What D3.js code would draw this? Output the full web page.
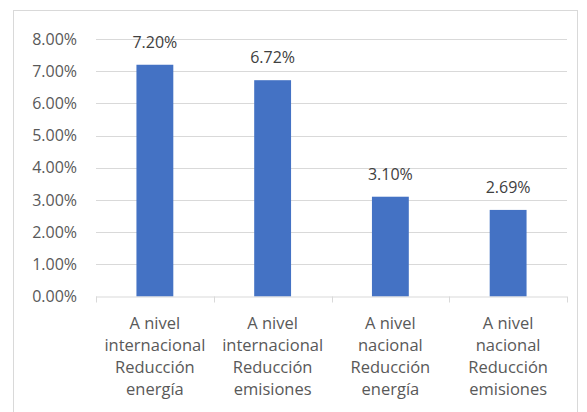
<!DOCTYPE html>
<html>
<head>
<meta charset="utf-8">
<script src="https://cdn.jsdelivr.net/npm/d3@7"></script>
<style>
  body { margin: 0; background: #fff; }
  svg { font-family: "Open Sans", sans-serif; }
</style>
</head>
<body>
<div id="wrapper"></div>
<script>
// data
const categories = [
    ["A nivel", "internacional", "Reducción", "energía"],
    ["A nivel", "internacional", "Reducción", "emisiones"],
    ["A nivel", "nacional", "Reducción", "energía"],
    ["A nivel", "nacional", "Reducción", "emisiones"]
];
const values = [0.072, 0.0672, 0.031, 0.0269];
const yTicks = [0, 0.01, 0.02, 0.03, 0.04, 0.05, 0.06, 0.07, 0.08];

const width = 587
const height = 412
let dimensions = {
    width: width,
    height: height,
    margin: { top: 39, right: 20, bottom: 115.5, left: 96 },
}
dimensions.boundedWidth = 567 - dimensions.margin.left
dimensions.boundedHeight = 296.5 - dimensions.margin.top

const wrapper = d3.select("#wrapper")
    .append("svg")
    .attr("width", dimensions.width)
    .attr("height", dimensions.height);

// chart border
wrapper.append("rect")
    .attr("x", 13.5)
    .attr("y", 10.5)
    .attr("width", 564)
    .attr("height", 420)
    .attr("fill", "none")
    .attr("stroke", "#d9d9d9");

const bounds = wrapper.append("g")
    .attr("transform", `translate(${dimensions.margin.left},${dimensions.margin.top})`);

const xScaler = d3.scaleBand()
    .domain(d3.range(categories.length))
    .range([0, dimensions.boundedWidth])
    .paddingInner(0.687)
    .paddingOuter(0.3435)

const yScaler = d3.scaleLinear()
    .domain([0, 0.08])
    .range([dimensions.boundedHeight, 0])

// gridlines
bounds.append("g")
    .selectAll("line")
    .data(yTicks.slice(1))
    .join("line")
    .attr("x1", 0)
    .attr("x2", dimensions.boundedWidth)
    .attr("y1", d => Math.round(yScaler(d)) + 0.5)
    .attr("y2", d => Math.round(yScaler(d)) + 0.5)
    .attr("stroke", "#d9d9d9")
    .attr("stroke-width", 1);

// y axis
const yAxisGen = d3.axisLeft(yScaler)
    .tickValues(yTicks)
    .tickFormat(d3.format(".2%"))
    .tickSize(0)
    .tickPadding(19);
const yAxis = bounds.append("g").call(yAxisGen);
yAxis.select(".domain").remove();
yAxis.selectAll("text")
    .attr("fill", "#595959")
    .attr("font-size", "16px")
    .attr("font-family", "Open Sans, sans-serif");

// bars
bounds.append("g")
    .selectAll("rect")
    .data(values)
    .join("rect")
    .attr("x", (d, i) => xScaler(i))
    .attr("y", d => yScaler(d))
    .attr("width", xScaler.bandwidth())
    .attr("height", d => dimensions.boundedHeight - yScaler(d))
    .attr("fill", "#4472c4");

// value labels
bounds.append("g")
    .selectAll("text")
    .data(values)
    .join("text")
    .attr("x", (d, i) => xScaler(i) + xScaler.bandwidth() / 2)
    .attr("y", d => yScaler(d) - 17)
    .attr("text-anchor", "middle")
    .attr("fill", "#404040")
    .attr("font-size", "16px")
    .text(d => d3.format(".2%")(d));

// x axis line and ticks between categories
const step = xScaler.step();
bounds.append("line")
    .attr("x1", 0)
    .attr("x2", dimensions.boundedWidth)
    .attr("y1", dimensions.boundedHeight + 0.5)
    .attr("y2", dimensions.boundedHeight + 0.5)
    .attr("stroke", "#d9d9d9");
bounds.append("g")
    .selectAll("line")
    .data(d3.range(categories.length + 1))
    .join("line")
    .attr("x1", i => Math.round(i * step) + 0.5)
    .attr("x2", i => Math.round(i * step) + 0.5)
    .attr("y1", dimensions.boundedHeight)
    .attr("y2", dimensions.boundedHeight + 6)
    .attr("stroke", "#d9d9d9");

// category labels
const catLabels = bounds.append("g")
    .selectAll("text")
    .data(categories)
    .join("text")
    .attr("text-anchor", "middle")
    .attr("fill", "#595959")
    .attr("font-size", "16.5px")
    .attr("transform", (d, i) => `translate(${xScaler(i) + xScaler.bandwidth() / 2},${dimensions.boundedHeight + 32})`);
catLabels.selectAll("tspan")
    .data(d => d)
    .join("tspan")
    .attr("x", 0)
    .attr("y", (d, j) => j * 22)
    .text(d => d);
</script>
</body>
</html>
